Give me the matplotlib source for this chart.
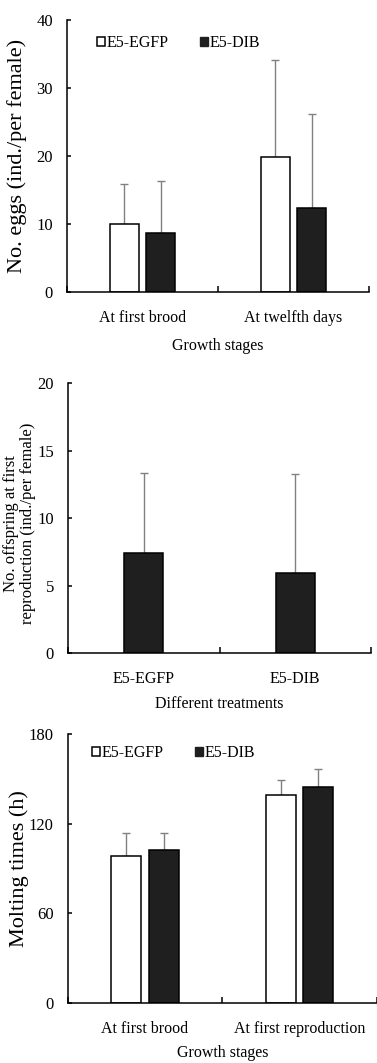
import numpy as np
import matplotlib
matplotlib.use("Agg")
import matplotlib.pyplot as plt
from matplotlib.patches import Patch

plt.rcParams['font.family'] = ['Liberation Serif', 'DejaVu Serif']

# panel 1 - eggs
stages1 = ["At first brood", "At twelfth days"]
eggs_egfp = [10.0, 19.9]
eggs_egfp_sd = [5.9, 14.2]
eggs_dib = [8.7, 12.3]
eggs_dib_sd = [7.6, 13.9]

# panel 2 - offspring
treatments = ["E5-EGFP", "E5-DIB"]
offspring = [7.45, 5.93]
offspring_sd = [5.93, 7.35]

# panel 3 - molting time
stages3 = ["At first brood", "At first reproduction"]
molt_egfp = [98.6, 139.1]
molt_egfp_sd = [15.4, 10.5]
molt_dib = [102.6, 144.7]
molt_dib_sd = [11.0, 11.8]

black = "#1f1f1f"
grey = "#808080"
W, H = 377, 1063

fig = plt.figure(figsize=(W / 100, H / 100), dpi=100)


def box(l, r, top, bot):
    return [l / W, 1 - bot / H, (r - l) / W, (bot - top) / H]


def style(ax, ymax, yticks, labels):
    for s in ["top", "right"]:
        ax.spines[s].set_visible(False)
    for s in ["left", "bottom"]:
        ax.spines[s].set_linewidth(1.1)
    ax.set_xlim(0, 2)
    ax.set_ylim(0, ymax)
    ax.set_yticks(yticks)
    ax.set_xticks([0, 1, 2])
    ax.set_xticklabels([])
    ax.set_xticks([0.5, 1.5], minor=True)
    ax.set_xticklabels(labels, minor=True)
    ax.tick_params(axis="x", which="major", direction="in", length=4.5, width=1.1)
    ax.tick_params(axis="x", which="minor", length=0, pad=13, labelsize=11.5)
    ax.tick_params(axis="y", direction="in", length=3, width=1.1, pad=10, labelsize=12)


def bars(ax, x, vals, sd, width, fc):
    # only the upper half of the error bar is shown, lower part hides under the bar
    ax.errorbar(x, vals, yerr=[np.zeros(len(sd)), sd], fmt="none", ecolor=grey,
                elinewidth=1.0, capsize=3, capthick=1.0, zorder=1)
    ax.bar(x, vals, width, color=fc, edgecolor="black", linewidth=1.1, zorder=2)


def legend(ax, x, y):
    handles = [Patch(facecolor="white", edgecolor="black", linewidth=1.1, label="E5-EGFP"),
               Patch(facecolor=black, edgecolor=black, label="E5-DIB")]
    ax.legend(handles=handles, ncol=2, frameon=False, loc="center left",
              bbox_to_anchor=(x, y), borderpad=0, borderaxespad=0,
              handlelength=0.5, handleheight=0.5, handletextpad=0.1,
              columnspacing=2.0, fontsize=11.5)


cat = np.arange(2) + 0.5

# ---- panel 1
ax1 = fig.add_axes(box(67, 369, 20, 292))
bars(ax1, cat - 0.12, eggs_egfp, eggs_egfp_sd, 0.19, "white")
bars(ax1, cat + 0.12, eggs_dib, eggs_dib_sd, 0.19, black)
style(ax1, 40, [0, 10, 20, 30, 40], stages1)
ax1.set_ylabel("No. eggs (ind./per female)", fontsize=16)
ax1.yaxis.label.set_va("center")
ax1.yaxis.set_label_coords(-0.165, 0.5)
ax1.set_xlabel("Growth stages", fontsize=11.5)
ax1.xaxis.set_label_coords(0.5, -0.168)
legend(ax1, 0.098, 0.915)

# ---- panel 2
ax2 = fig.add_axes(box(68, 371, 383.3, 653.3))
bars(ax2, cat, offspring, offspring_sd, 0.26, black)
style(ax2, 20, [0, 5, 10, 15, 20], treatments)
ax2.set_ylabel("No. offspring at first\nreproduction (ind./per female)",
               fontsize=12, linespacing=1.05)
ax2.yaxis.label.set_va("center")
ax2.yaxis.set_label_coords(-0.16, 0.48)
ax2.set_xlabel("Different treatments", fontsize=11.5)
ax2.xaxis.set_label_coords(0.5, -0.16)

# ---- panel 3
ax3 = fig.add_axes(box(67.7, 377, 734.3, 1002.7))
bars(ax3, cat - 0.123, molt_egfp, molt_egfp_sd, 0.195, "white")
bars(ax3, cat + 0.12, molt_dib, molt_dib_sd, 0.195, black)
style(ax3, 180, [0, 60, 120, 180], stages3)
ax3.set_ylabel("Molting times (h)", fontsize=16)
ax3.yaxis.label.set_va("center")
ax3.yaxis.set_label_coords(-0.157, 0.5)
ax3.set_xlabel("Growth stages", fontsize=11.5)
ax3.xaxis.set_label_coords(0.5, -0.158)
legend(ax3, 0.078, 0.93)

fig.savefig("out.png", dpi=100)
